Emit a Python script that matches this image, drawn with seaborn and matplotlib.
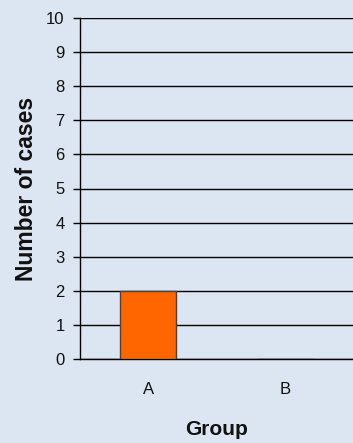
import matplotlib
matplotlib.use("Agg")
import matplotlib.pyplot as plt
import seaborn as sns
import pandas as pd

groups = ["A", "B"]
cases = [2, 0]
y_ticks = list(range(0, 11))

sns.set_theme(style="white")
plt.rcParams["font.family"] = ["Liberation Sans", "DejaVu Sans"]

bg = "#DCE6F2"
df = pd.DataFrame({"Group": groups, "Cases": cases})

fig = plt.figure(figsize=(3.53, 4.43), dpi=100, facecolor=bg)
ax = fig.add_axes([80 / 353, 1 - 359 / 443, 273 / 353, (359 - 18) / 443])
ax.set_facecolor(bg)

sns.barplot(data=df, x="Group", y="Cases", color="#FF6600", width=0.41,
            edgecolor="#444444", linewidth=1.0, saturation=1, ax=ax, zorder=3)

ax.set_xlim(-0.5, 1.45)
ax.set_ylim(0, 10)
ax.set_yticks(y_ticks)
ax.set_yticklabels([str(v) for v in y_ticks], fontsize=12, color="#111111")
ax.yaxis.grid(True, color="black", linewidth=1.0, zorder=0)
ax.set_axisbelow(True)

# category separators as minor ticks on the x axis
ax.set_xticks([-0.5, 0.5, 1.5], minor=True)
ax.tick_params(axis="x", which="minor", length=7, width=1, color="black", direction="out")
ax.tick_params(axis="x", which="major", length=0, pad=16.5, labelsize=12, labelcolor="#111111")
ax.tick_params(axis="y", which="major", length=5, width=1, color="black", direction="out", pad=6, left=True)

for side in ["top", "right"]:
    ax.spines[side].set_visible(False)
for side in ["left", "bottom"]:
    ax.spines[side].set_color("black")
    ax.spines[side].set_linewidth(1.0)

ax.set_xlabel("Group", fontsize=15, fontweight="bold", color="#111111", labelpad=16.5)
ax.set_ylabel("Number of cases", fontsize=16.5, fontweight="bold", color="#111111", labelpad=6)

fig.savefig("out.png", dpi=100, facecolor=bg)
